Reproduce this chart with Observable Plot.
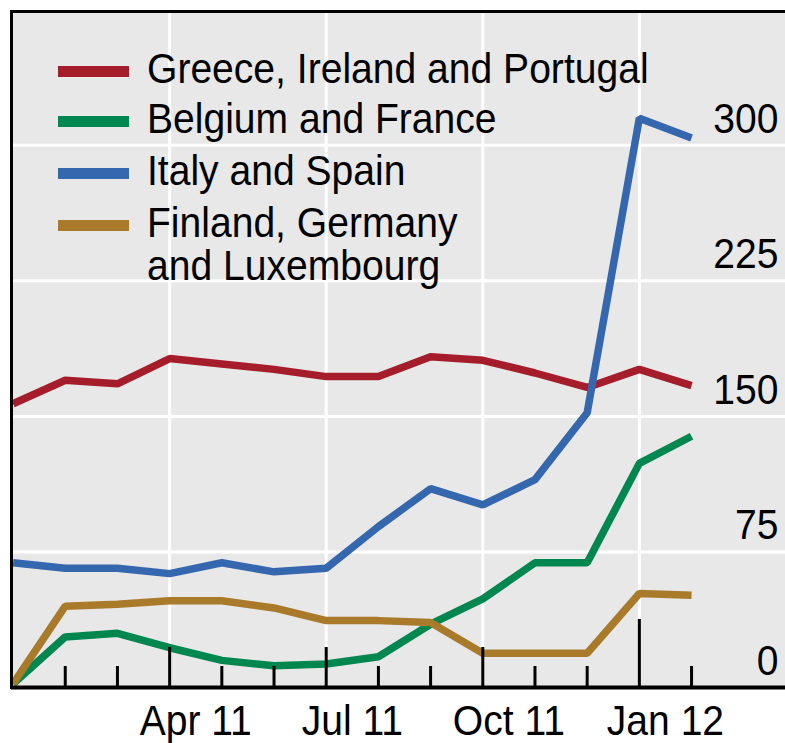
<!DOCTYPE html>
<html>
<head>
<meta charset="utf-8">
<script src="https://cdn.jsdelivr.net/npm/d3@7"></script>
<script src="https://cdn.jsdelivr.net/npm/@observablehq/plot@0.6"></script>
<style>
  html, body { margin: 0; padding: 0; background: #ffffff; }
  #wrap { position: relative; width: 785px; height: 743px; font-family: "Liberation Sans", Arial, sans-serif; }
  #legend { position: absolute; left: 0; top: 0; }
  .item { position: absolute; left: 58px; }
  .sw { position: absolute; left: 0; width: 71px; height: 11px; }
  .lb { position: absolute; left: 89px; font-size: 42px; line-height: 43px; color: #000; white-space: nowrap; transform: scaleX(0.93); transform-origin: left center; }
</style>
</head>
<body>
<div id="wrap"><div id="legend"></div></div>
<script>
// Months from Jan 2011 to Feb 2012 (index positions)
const months = ["Jan 11","Feb 11","Mar 11","Apr 11","May 11","Jun 11","Jul 11","Aug 11","Sep 11","Oct 11","Nov 11","Dec 11","Jan 12","Feb 12"];
const seriesNames = ["Greece, Ireland and Portugal","Belgium and France","Italy and Spain","Finland, Germany and Luxembourg"];
const seriesColors = ["#a51c2a","#00874f","#3567ae","#a87a2a"];

const greeceIrelandPortugal = [157,170,168,182,179,176,172,172,183,181,174,166,176,167];
const belgiumFrance         = [2,28,30,22,15,12,13,17,35,49,69,69,124,139];
const italySpain            = [69,66,66,63,69,64,66,89,110,101,115,152,315,304];
const finlandGermanyLux     = [2,45,46,48,48,44,37,37,36,19,19,19,52,51];

const yTicks = [0,75,150,225,300];
const quarterLabels = ["Apr 11","Jul 11","Oct 11","Jan 12"];

const seriesValues = [greeceIrelandPortugal, belgiumFrance, italySpain, finlandGermanyLux];
const data = [];
seriesNames.forEach((s, k) => seriesValues[k].forEach((v, i) => data.push({series: s, i, value: v})));

const monthTicks = months.map((m, i) => ({i, kind: m.startsWith("Jan") ? "year" : (i % 3 === 0 ? "quarter" : "month")})).filter(d => d.i > 0);
const labelData = quarterLabels.map(l => ({label: l, i: months.indexOf(l) + 0.5}));

const frameH = 743 - 11 - 56;
const tickLen = {month: 21, quarter: 40, year: 68};
const font = "Liberation Sans, Arial, sans-serif";

const chart = Plot.plot({
  width: 785,
  height: 743,
  marginTop: 11,
  marginBottom: 56,
  marginLeft: 11,
  marginRight: 0,
  style: {fontFamily: font, background: "#ffffff"},
  x: {type: "linear", domain: [-0.03, 14.8], axis: null},
  y: {domain: [0, 374], axis: null},
  color: {domain: seriesNames, range: seriesColors},
  marks: [
    Plot.frame({fill: "#e8e8e8", stroke: "none"}),
    Plot.ruleY(yTicks.filter(d => d > 0), {stroke: "#ffffff", strokeWidth: 3}),
    Plot.ruleX(quarterLabels.map(l => months.indexOf(l)), {stroke: "#ffffff", strokeWidth: 3}),
    Plot.line(data, {x: "i", y: "value", z: "series", stroke: "series", strokeWidth: 7.5, strokeLinejoin: "miter", strokeLinecap: "butt"}),
    ...["month","quarter","year"].map(k =>
      Plot.ruleX(monthTicks.filter(d => d.kind === k), {x: "i", stroke: "#000", strokeWidth: 3, insetTop: frameH - tickLen[k]})
    ),
    Plot.ruleY([0], {stroke: "#000", strokeWidth: 4}),
    Plot.frame({anchor: "left", stroke: "#000", strokeWidth: 3}),
    Plot.frame({anchor: "top", stroke: "#000", strokeWidth: 3}),
    Plot.text(yTicks, {y: d => d, text: d => String(d), frameAnchor: "right", textAnchor: "end", lineAnchor: "middle", dx: -7, dy: -26, fontSize: 42, fill: "#000"}),
    Plot.text(labelData, {x: "i", text: "label", frameAnchor: "bottom", lineAnchor: "middle", dy: 34, fontSize: 42, fill: "#000"})
  ]
});

const wrap = document.getElementById("wrap");
wrap.insertBefore(chart, wrap.firstChild);

// Slightly condense the axis text (as in the reference)
const yTickStrings = yTicks.map(String);
chart.querySelectorAll("text").forEach(t => {
  const b = t.getBBox();
  const isY = yTickStrings.includes(t.textContent.trim());
  const ax = isY ? b.x + b.width : b.x + b.width / 2;
  const prev = t.getAttribute("transform") || "";
  t.setAttribute("transform", `${prev} translate(${ax},0) scale(0.93,1) translate(${-ax},0)`);
});

// Legend (overlay)
const legend = document.getElementById("legend");
const rowCenters = [71, 121, 173, 225];
const labelLines = [["Greece, Ireland and Portugal"],["Belgium and France"],["Italy and Spain"],["Finland, Germany","and Luxembourg"]];
seriesNames.forEach((s, k) => {
  const item = document.createElement("div");
  item.className = "item";
  item.style.top = rowCenters[k] + "px";
  const sw = document.createElement("div");
  sw.className = "sw";
  sw.style.background = seriesColors[k];
  sw.style.top = "-5.5px";
  item.appendChild(sw);
  const lb = document.createElement("div");
  lb.className = "lb";
  lb.style.top = "-24px";
  lb.innerHTML = labelLines[k].join("<br>");
  item.appendChild(lb);
  legend.appendChild(item);
});
</script>
</body>
</html>
